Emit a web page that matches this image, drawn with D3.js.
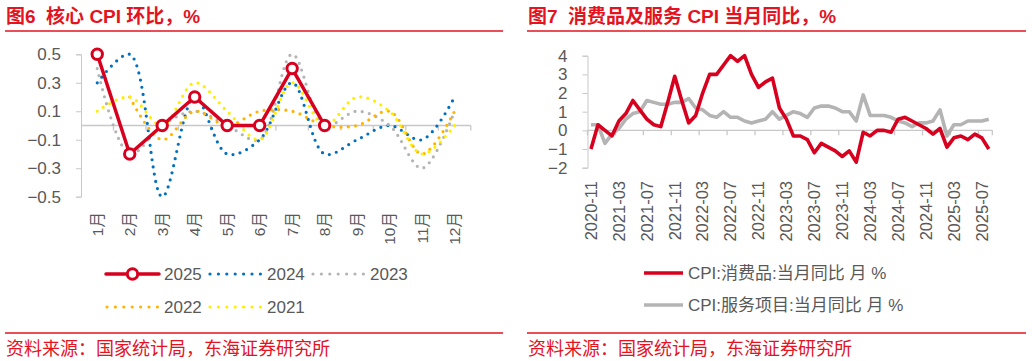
<!DOCTYPE html>
<html lang="zh">
<head>
<meta charset="utf-8">
<script src="https://d3js.org/d3.v7.min.js"></script>
<style>
  body { margin: 0; background: #fff; }
  svg text { font-family: "Liberation Sans", Arial, "Noto Sans CJK SC", sans-serif; white-space: pre; }
</style>
</head>
<body>
<div id="chart"></div>
<script>
// ---- left chart: core CPI m/m, % ----
var months = ["1月","2月","3月","4月","5月","6月","7月","8月","9月","10月","11月","12月"];
var y2025 = [0.5, -0.2, 0.0, 0.2, 0.0, 0.0, 0.4, 0.0];
var y2024 = [0.3, 0.5, -0.5, 0.2, -0.2, -0.1, 0.3, -0.2, -0.1, 0.0, -0.1, 0.2];
var y2023 = [0.4, -0.2, 0.0, 0.1, 0.0, -0.1, 0.5, 0.0, 0.1, 0.0, -0.3, 0.1];
var y2022 = [null, 0.2, -0.1, 0.1, 0.0, 0.1, 0.1, 0.0, 0.0, 0.1, -0.2, 0.1];
var y2021 = [0.1, 0.2, 0.0, 0.3, 0.1, -0.1, 0.3, 0.0, 0.2, 0.1, -0.2, 0.0];
var leftTicks = [0.5, 0.3, 0.1, -0.1, -0.3, -0.5];

// ---- right chart: goods / services CPI y/y, % ----
var dates = [];
(function () {
  var yr = 2020, mo = 11;
  for (var i = 0; i < 58; i++) {
    dates.push(yr + "-" + (mo < 10 ? "0" + mo : mo));
    mo++; if (mo > 12) { mo = 1; yr++; }
  }
})();
var goods = [-1.0, 0.3, 0.0, -0.3, 0.5, 0.9, 1.6, 1.1, 0.6, 0.3, 0.2, 1.5, 2.9, 1.6, 0.4, 0.8,
             2.0, 3.0, 3.0, 3.5, 4.0, 3.7, 4.0, 3.0, 2.3, 2.6, 2.8, 1.2, 0.6, -0.3, -0.3, -0.5,
             -1.2, -0.7, -0.9, -1.1, -1.4, -1.1, -1.7, -0.1, -0.3, 0.0, 0.0, -0.1, 0.6, 0.7, 0.5, 0.3,
             0.1, -0.2, 0.1, -0.9, -0.4, -0.3, -0.5, -0.2, -0.4, -1.0];
var services = [0.3, 0.3, -0.7, -0.2, 0.1, 0.6, 0.9, 1.0, 1.6, 1.5, 1.4, 1.4, 1.5, 1.5, 1.7, 1.2,
                1.1, 0.8, 0.7, 1.0, 0.7, 0.7, 0.5, 0.4, 0.5, 0.6, 1.0, 0.6, 0.8, 1.0, 0.9, 0.7,
                1.2, 1.3, 1.3, 1.2, 1.0, 1.0, 0.5, 1.9, 0.8, 0.8, 0.8, 0.7, 0.5, 0.4, 0.2, 0.4,
                0.4, 0.5, 1.1, -0.3, 0.3, 0.3, 0.5, 0.5, 0.5, 0.6];
var rightTicks = [4, 3, 2, 1, 0, -1, -2];

var RED = "#d7001f", TXT = "#595959", AX = "#c8c8c8", HEAD = "#e3131f";

var svg = d3.select("#chart").append("svg")
    .attr("width", 1032).attr("height", 361);

// headings, rules, sources
function frame(x0, x1, title) {
  svg.append("text").attr("x", x0 + 1).attr("y", 23)
    .attr("fill", HEAD).attr("font-size", 19).attr("font-weight", "bold")
    .style("font-family", "'Liberation Sans','Noto Sans CJK SC',sans-serif")
    .text(title);
  svg.append("line").attr("x1", x0).attr("x2", x1).attr("y1", 31).attr("y2", 31)
    .attr("stroke", HEAD).attr("stroke-width", 1.5);
  svg.append("line").attr("x1", x0).attr("x2", x1).attr("y1", 333).attr("y2", 333)
    .attr("stroke", HEAD).attr("stroke-width", 1.5);
  svg.append("text").attr("x", x0 + 1).attr("y", 355)
    .attr("fill", HEAD).attr("font-size", 18)
    .style("font-family", "'Noto Sans CJK SC',sans-serif")
    .text("资料来源：国家统计局，东海证券研究所");
}
frame(5, 503, "图6  核心 CPI 环比，%");
frame(527, 1026, "图7  消费品及服务 CPI 当月同比，%");

// ================= left chart =================
var xL = d3.scaleBand().domain(months).range([81, 470.8]);
var yL = d3.scaleLinear().domain([-0.5, 0.5]).range([196.7, 54.3]);
var gL = svg.append("g");

var axL = gL.append("g").attr("transform", "translate(81,0)")
  .call(d3.axisLeft(yL).tickValues(leftTicks).tickSize(5).tickPadding(15)
    .tickFormat(d3.format(".1f")));
axL.select(".domain").attr("stroke", AX);
axL.selectAll(".tick line").attr("stroke", AX);
axL.selectAll(".tick text").attr("fill", TXT).attr("font-size", 17)
  .attr("font-family", "'Liberation Sans',sans-serif");

// zero category axis
var zL = gL.append("g").attr("transform", "translate(0," + yL(0) + ")");
zL.append("line").attr("x1", 81).attr("x2", 470.8).attr("stroke", AX).attr("stroke-width", 1.3);
zL.selectAll(".tk").data(months).enter().append("line")
  .attr("x1", function (d) { return xL(d) + xL.bandwidth(); })
  .attr("x2", function (d) { return xL(d) + xL.bandwidth(); })
  .attr("y1", 0).attr("y2", 5).attr("stroke", AX).attr("stroke-width", 1.3);
gL.selectAll(".mlab").data(months).enter().append("text")
  .attr("transform", function (d) {
    return "translate(" + (xL(d) + xL.bandwidth() / 2) + ",212) rotate(-90)";
  })
  .attr("text-anchor", "end").attr("dy", "0.35em")
  .attr("fill", TXT).attr("font-size", 15.5)
  .style("font-family", "'Liberation Sans','Noto Sans CJK SC',sans-serif")
  .text(function (d) { return d; });

var lineL = function (curve) {
  return d3.line()
    .defined(function (d) { return d != null; })
    .x(function (d, i) { return xL(months[i]) + xL.bandwidth() / 2; })
    .y(function (d) { return yL(d); })
    .curve(curve);
};
var dotted = [
  { name: "2024", data: y2024, color: "#0070c0" },
  { name: "2023", data: y2023, color: "#b4b4b4" },
  { name: "2022", data: y2022, color: "#ffb300" },
  { name: "2021", data: y2021, color: "#ffee00" }
];
dotted.forEach(function (s) {
  gL.append("path").datum(s.data)
    .attr("d", lineL(d3.curveCatmullRom.alpha(0.5)))
    .attr("fill", "none").attr("stroke", s.color)
    .attr("stroke-width", 3.2).attr("stroke-linecap", "round")
    .attr("stroke-dasharray", "0 7.3");
});
gL.append("path").datum(y2025)
  .attr("d", lineL(d3.curveLinear))
  .attr("fill", "none").attr("stroke", RED).attr("stroke-width", 3.5);
gL.selectAll(".mk").data(y2025).enter().append("circle")
  .attr("cx", function (d, i) { return xL(months[i]) + xL.bandwidth() / 2; })
  .attr("cy", function (d) { return yL(d); })
  .attr("r", 5.2).attr("fill", "#fff").attr("stroke", RED).attr("stroke-width", 3);

// left legend
var legL = [
  { name: "2025", color: RED, x: 106, y: 274, solid: true },
  { name: "2024", color: "#0070c0", x: 209, y: 274 },
  { name: "2023", color: "#b4b4b4", x: 312, y: 274 },
  { name: "2022", color: "#ffb300", x: 106, y: 307 },
  { name: "2021", color: "#ffee00", x: 209, y: 307 }
];
legL.forEach(function (l) {
  var g = svg.append("g").attr("transform", "translate(" + l.x + "," + l.y + ")");
  if (l.solid) {
    g.append("line").attr("x1", 0).attr("x2", 53).attr("stroke", l.color)
      .attr("stroke-width", 3.5).attr("stroke-linecap", "round");
    g.append("circle").attr("cx", 26.5).attr("r", 5.2).attr("fill", "#fff")
      .attr("stroke", l.color).attr("stroke-width", 3);
  } else {
    g.append("line").attr("x1", 1).attr("x2", 52).attr("stroke", l.color)
      .attr("stroke-width", 3.2).attr("stroke-linecap", "round")
      .attr("stroke-dasharray", "0 8.4");
  }
  g.append("text").attr("x", 58).attr("dy", "0.36em").attr("fill", TXT)
    .attr("font-size", 17).text(l.name);
});

// ================= right chart =================
var xR = d3.scaleBand().domain(dates).range([587.5, 992.3]);
var yR = d3.scaleLinear().domain([-2, 4]).range([167.7, 55.7]);
var gR = svg.append("g");

var axR = gR.append("g").attr("transform", "translate(587.5,0)")
  .call(d3.axisLeft(yR).tickValues(rightTicks).tickSize(5).tickPadding(15)
    .tickFormat(d3.format("d")));
axR.select(".domain").attr("stroke", AX);
axR.selectAll(".tick line").attr("stroke", AX);
axR.selectAll(".tick text").attr("fill", TXT).attr("font-size", 17)
  .attr("font-family", "'Liberation Sans',sans-serif");

var labDates = dates.filter(function (d, i) { return i % 4 === 0; });
var zR = gR.append("g").attr("transform", "translate(0," + yR(0) + ")");
zR.append("line").attr("x1", 587.5).attr("x2", 992.3).attr("stroke", AX).attr("stroke-width", 1.3);
zR.selectAll(".tk").data(labDates).enter().append("line")
  .attr("x1", function (d) { return xR(d); })
  .attr("x2", function (d) { return xR(d); })
  .attr("y1", 0).attr("y2", 5).attr("stroke", AX).attr("stroke-width", 1.3);
zR.append("line").attr("x1", 992.3).attr("x2", 992.3).attr("y1", 0).attr("y2", 5)
  .attr("stroke", AX).attr("stroke-width", 1.3);
gR.selectAll(".dlab").data(labDates).enter().append("text")
  .attr("transform", function (d) {
    return "translate(" + (xR(d) + xR.bandwidth() / 2) + ",181) rotate(-90)";
  })
  .attr("text-anchor", "end").attr("dy", "0.35em")
  .attr("fill", TXT).attr("font-size", 16.5)
  .text(function (d) { return d; });

var lineR = d3.line()
  .x(function (d, i) { return xR(dates[i]) + xR.bandwidth() / 2; })
  .y(function (d) { return yR(d); });
gR.append("path").datum(services).attr("d", lineR)
  .attr("fill", "none").attr("stroke", "#b4b4b4").attr("stroke-width", 3.6)
  .attr("stroke-linejoin", "round");
gR.append("path").datum(goods).attr("d", lineR)
  .attr("fill", "none").attr("stroke", RED).attr("stroke-width", 3.6)
  .attr("stroke-linejoin", "round");

// right legend
var legR = [
  { name: "CPI:消费品:当月同比 月 %", color: RED, y: 273 },
  { name: "CPI:服务项目:当月同比 月 %", color: "#b4b4b4", y: 305 }
];
legR.forEach(function (l) {
  var g = svg.append("g").attr("transform", "translate(644," + l.y + ")");
  g.append("line").attr("x1", 0).attr("x2", 39).attr("stroke", l.color).attr("stroke-width", 3.6);
  g.append("text").attr("x", 44).attr("dy", "0.36em").attr("fill", TXT)
    .attr("font-size", 17)
    .style("font-family", "'Liberation Sans','Noto Sans CJK SC',sans-serif")
    .text(l.name);
});
</script>
</body>
</html>
